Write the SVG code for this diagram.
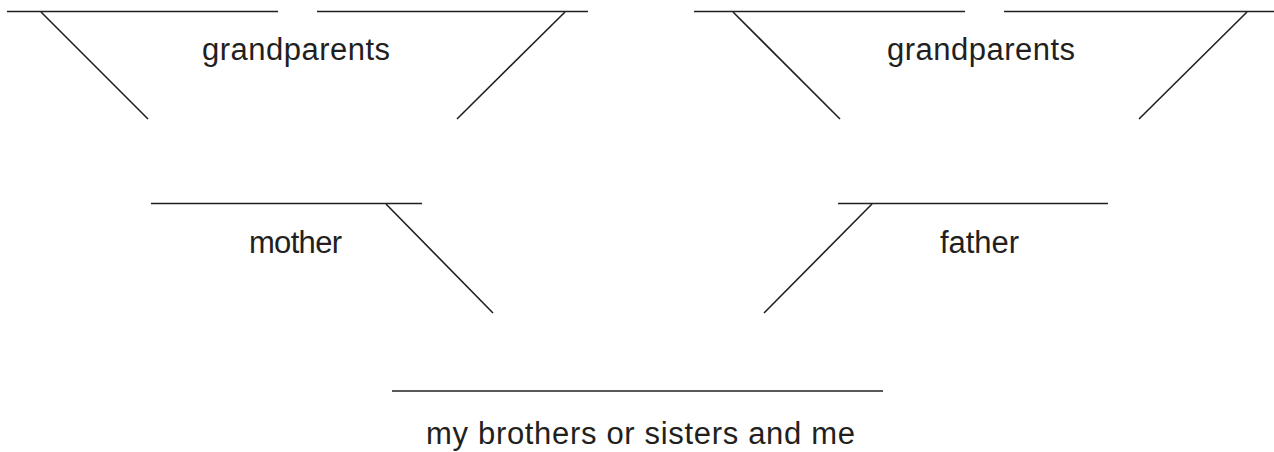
<svg xmlns="http://www.w3.org/2000/svg" width="1274" height="452" viewBox="0 0 1274 452">
<style>
.l{stroke:#231f20;stroke-width:1.6;fill:none;stroke-linecap:butt}
.t{font-family:"Liberation Sans",Arial,sans-serif;font-size:31px;fill:#231f20}
</style>
<rect width="1274" height="452" fill="#fff"/>
<g id="gp-left">
<line class="l" x1="7" y1="11.5" x2="278" y2="11.5"/>
<line class="l" x1="317" y1="11.5" x2="588" y2="11.5"/>
<text class="t" x="202" y="60" textLength="188" lengthAdjust="spacing">grandparents</text>
</g>
<g id="gp-right">
<line class="l" x1="694" y1="11.5" x2="965" y2="11.5"/>
<line class="l" x1="1004" y1="11.5" x2="1274" y2="11.5"/>
<text class="t" x="887" y="60" textLength="188" lengthAdjust="spacing">grandparents</text>
</g>
<g id="mother">
<line class="l" x1="151" y1="203.5" x2="422" y2="203.5"/>
<text class="t" x="249" y="253" textLength="93" lengthAdjust="spacing">mother</text>
</g>
<g id="father">
<line class="l" x1="838" y1="203.5" x2="1108" y2="203.5"/>
<text class="t" x="940" y="253" textLength="79" lengthAdjust="spacing">father</text>
</g>
<g id="me">
<line class="l" x1="392" y1="391" x2="883" y2="391"/>
<text class="t" x="426" y="444" textLength="429" lengthAdjust="spacing">my brothers or sisters and me</text>
</g>
<g id="connectors">
<line class="l" x1="41" y1="12" x2="148" y2="119"/>
<line class="l" x1="565" y1="12" x2="457" y2="119"/>
<line class="l" x1="733" y1="12" x2="840" y2="119"/>
<line class="l" x1="1247" y1="12" x2="1139" y2="119"/>
<line class="l" x1="386" y1="204" x2="493" y2="313"/>
<line class="l" x1="872" y1="204" x2="764" y2="313"/>
</g>
</svg>
